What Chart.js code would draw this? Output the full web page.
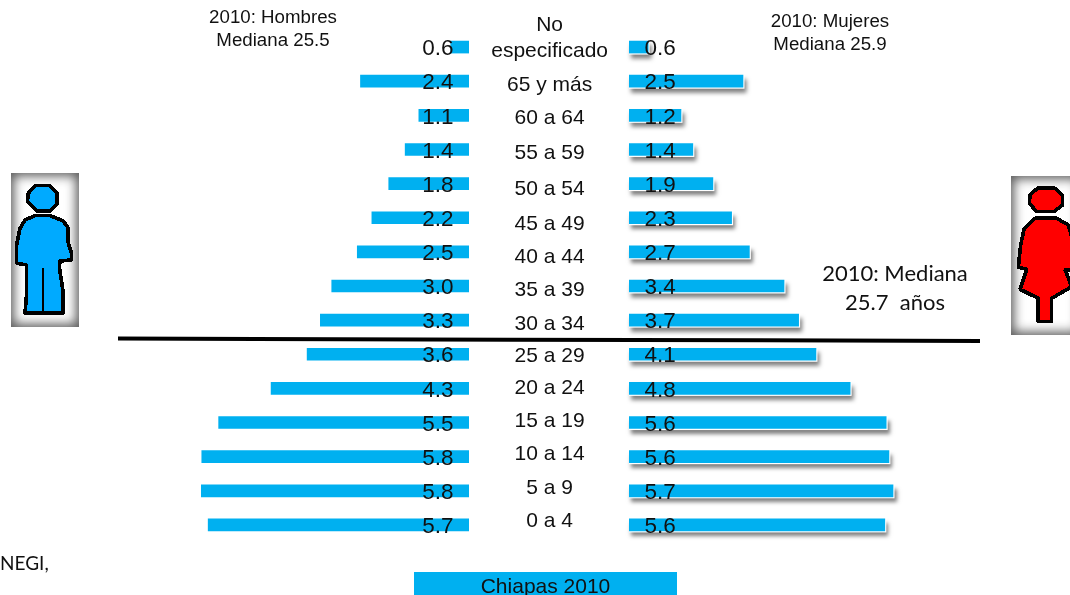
<!DOCTYPE html>
<html lang="es">
<head>
<meta charset="utf-8">
<title>Chiapas 2010</title>
<script src="https://cdn.jsdelivr.net/npm/chart.js@4/dist/chart.umd.js"></script>
<style>
  html, body { margin: 0; padding: 0; background: #fff; }
  #lienzo { position: relative; width: 1070px; height: 595px; overflow: hidden; font-family: "Liberation Sans", Arial, sans-serif; color: #111; }
  canvas { position: absolute; top: 0; }
  #chartHombres { left: 100px; }
  #chartMujeres { left: 469px; }
  svg { position: absolute; left: 0; top: 0; }
  .nota { position: absolute; text-align: center; white-space: nowrap; transform: translateX(-50%); font-size: 18.7px; line-height: 22.5px; }
  .caja { position: absolute; background: #fff; box-shadow: inset 0 0 11px 3px #5a5a5a; }
</style>
</head>
<body>
<div id="lienzo">
  <div class="caja" style="left:11px;top:173px;width:68px;height:154px"></div>
  <div class="caja" style="left:1011px;top:176px;width:70px;height:159px"></div>
  <canvas id="chartHombres" width="369" height="595"></canvas>
  <canvas id="chartMujeres" width="531" height="595"></canvas>
  <svg width="1070" height="595">
    <line x1="118" y1="338.5" x2="980" y2="341" stroke="#000" stroke-width="4"/>
    <g transform="translate(0,165) scale(0.3333)" fill="#00aaff" stroke="#000" stroke-width="11" stroke-linejoin="bevel" shape-rendering="crispEdges">
      <path d="M85 85 L105 62 L150 62 L172 85 L172 115 L150 138 L110 138 L82 110 Z"/>
      <path d="M105 152 L150 152 L190 168 L205 190 L205 235 L215 265 L215 285 L180 288 L178 305 L190 385 L190 445 L75 445 L80 385 L80 300 L50 295 L50 240 L60 190 L75 165 Z"/>
      <line x1="130" y1="310" x2="130" y2="440" stroke-width="6"/>
    </g>
    <g transform="translate(1000,170) scale(0.3333)" fill="#ff0000" stroke="#000" stroke-width="11" stroke-linejoin="bevel" shape-rendering="crispEdges">
      <path d="M90 75 L112 55 L165 55 L188 78 L188 105 L162 125 L110 125 L88 100 Z"/>
      <path d="M105 145 L170 145 L205 165 L215 200 L215 300 L195 298 L215 350 L155 385 L155 455 L115 455 L115 385 L60 358 L80 298 L55 292 L62 225 L72 178 Z"/>
    </g>
  </svg>
  <div class="nota" style="left:273px;top:6px">2010: Hombres<br>Mediana 25.5</div>
  <div class="nota" style="left:830px;top:9px;line-height:23px">2010: Mujeres<br>Mediana 25.9</div>
  <div class="nota" style="left:895px;top:258px;font-family:Lato,sans-serif;font-size:22px;line-height:29px">2010: Mediana<br>25.7&nbsp; años</div>
  <div style="position:absolute;left:0;top:552px;font-family:Lato,sans-serif;font-size:19px;line-height:22px">NEGI,</div>
  <div style="position:absolute;left:414px;top:572px;width:263px;height:23px;background:#00b0f0;text-align:center;font-size:21px;line-height:27px">Chiapas 2010</div>
</div>
<script>
const categorias = ['No especificado', '65 y más', '60 a 64', '55 a 59', '50 a 54', '45 a 49', '40 a 44', '35 a 39',
    '30 a 34', '25 a 29', '20 a 24', '15 a 19', '10 a 14', '5 a 9', '0 a 4'];
// largo de las barras (la primera barra es mas corta que su rotulo)
const hombres = [0.4, 2.38, 1.1, 1.4, 1.76, 2.13, 2.45, 3.01, 3.26, 3.55, 4.34, 5.49, 5.86, 5.87, 5.72];
const mujeres = [0.42, 2.5, 1.14, 1.4, 1.84, 2.25, 2.64, 3.4, 3.72, 4.1, 4.85, 5.64, 5.7, 5.79, 5.61];
// rotulos tal como aparecen
const rotulosHombres = ['0.6', '2.4', '1.1', '1.4', '1.8', '2.2', '2.5', '3.0', '3.3', '3.6', '4.3', '5.5', '5.8', '5.8', '5.7'];
const rotulosMujeres = ['0.6', '2.5', '1.2', '1.4', '1.9', '2.3', '2.7', '3.4', '3.7', '4.1', '4.8', '5.6', '5.6', '5.7', '5.6'];

const azul = '#00b0f0';
const pxPorUnidad = 45.6;
const arriba = 30, abajo = 542;
// filas del texto central, no van parejas con las barras en el original
const filasTexto = [38, 85, 118, 153, 189, 224, 257, 290, 324, 356, 388, 421, 454, 488, 521];

const rotular = (textos, hacia) => ({
    id: 'rotulos',
    afterDatasetsDraw(chart) {
        const ctx = chart.ctx;
        const base = chart.scales.x.getPixelForValue(0);
        ctx.save();
        ctx.font = '22.5px "Liberation Sans", Arial, sans-serif';
        ctx.fillStyle = '#111';
        ctx.textBaseline = 'middle';
        ctx.textAlign = hacia < 0 ? 'right' : 'left';
        chart.getDatasetMeta(0).data.forEach((el, i) => {
            ctx.fillText(textos[i], base + hacia * 15.5, el.y + 2);
        });
        ctx.restore();
    }
});

// sombra gris de las barras de mujeres, rectangulo blanco debajo de cada barra
const sombra = {
    id: 'sombra',
    beforeDatasetsDraw(chart) {
        const ctx = chart.ctx;
        ctx.save();
        ctx.shadowColor = 'rgba(0,0,0,0.5)';
        ctx.shadowOffsetX = 2;
        ctx.shadowOffsetY = 4;
        ctx.shadowBlur = 4;
        ctx.fillStyle = '#fff';
        chart.getDatasetMeta(0).data.forEach(el => {
            ctx.fillRect(el.base, el.y - 6, el.x - el.base + 1.5, 13.5);
        });
        ctx.restore();
    }
};

new Chart(document.getElementById('chartHombres'), {
    type: 'bar',
    data: { labels: categorias, datasets: [{ data: hombres, backgroundColor: azul, barThickness: 12 }] },
    options: {
        indexAxis: 'y', responsive: false, animation: false,
        layout: { autoPadding: false, padding: { top: arriba, bottom: 595 - abajo } },
        plugins: { legend: { display: false }, tooltip: { enabled: false } },
        scales: {
            x: { type: 'linear', display: false, reverse: true, min: 0, max: 369 / pxPorUnidad },
            y: { type: 'category', display: false }
        }
    },
    plugins: [rotular(rotulosHombres, -1)]
});

new Chart(document.getElementById('chartMujeres'), {
    type: 'bar',
    data: { labels: categorias, datasets: [{ data: mujeres, backgroundColor: azul, barThickness: 12 }] },
    options: {
        indexAxis: 'y', responsive: false, animation: false,
        layout: { autoPadding: false, padding: { top: arriba, bottom: 595 - abajo } },
        plugins: { legend: { display: false }, tooltip: { enabled: false } },
        scales: {
            x: { type: 'linear', display: false, min: 0, max: 371 / pxPorUnidad },
            y: { type: 'category', display: false },
            filas: {
                type: 'linear', position: 'left', reverse: true, offset: false, min: arriba, max: abajo,
                grid: { display: false, offset: false }, border: { display: false },
                afterBuildTicks: axis => { axis.ticks = filasTexto.map(v => ({ value: v })); },
                afterFit: axis => { axis.width = 160; axis.paddingTop = 0; axis.paddingBottom = 0; },
                ticks: {
                    autoSkip: false, crossAlign: 'center', padding: 13, color: '#111',
                    font: { family: '"Liberation Sans", Arial, sans-serif', size: 21, lineHeight: 1.24 },
                    callback: (v, i) => i === 0 ? ['No', 'especificado'] : categorias[i]
                }
            }
        }
    },
    plugins: [sombra, rotular(rotulosMujeres, 1)]
});
</script>
</body>
</html>
